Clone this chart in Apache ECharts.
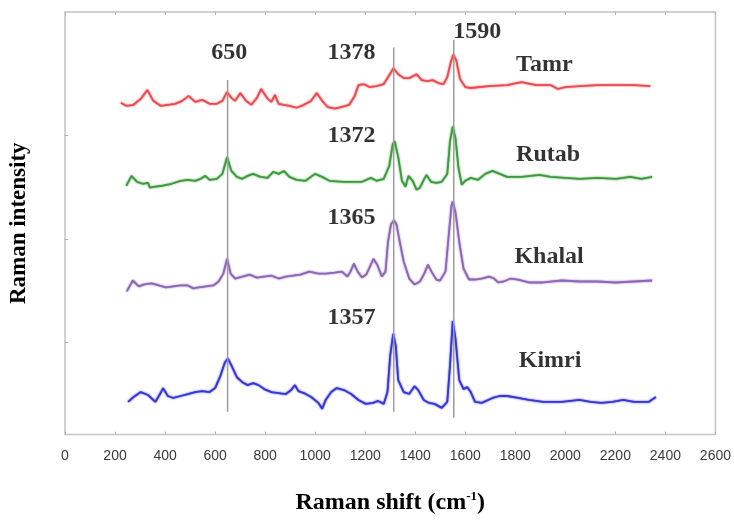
<!DOCTYPE html>
<html><head><meta charset="utf-8">
<script src="https://cdn.jsdelivr.net/npm/echarts@6/dist/echarts.min.js"></script>
<style>html,body{margin:0;padding:0;background:#fff}#c{width:734px;height:520px}</style>
</head><body><div id="c"></div>
<script>
// X axis ticks (Raman shift, cm-1)
var xTicks = [0,200,400,600,800,1000,1200,1400,1600,1800,2000,2200,2400,2600];
var yTicks = [101, 206, 311];

// Spectra (x: Raman shift axis units, y: stacked intensity, arbitrary units)
var tamrX = [223,245,274,303,329,353,382,411,440,469,494,520,549,578,607,629,648,665,680,701,723,745,767,784,810,825,839,854,875,897,926,955,984,1006,1028,1049,1078,1107,1136,1158,1173,1194,1216,1245,1274,1296,1313,1332,1354,1376,1405,1426,1448,1470,1492,1513,1528,1542,1552,1564,1579,1600,1622,1695,1767,1825,1883,1941,1970,1999,2057,2130,2202,2275,2340];
var tamrY = [344,341,342,348,357,346,341,342,343,346,351,345,347,343,343,346,355,349,346,354,346,342,349,358,348,345,352,343,342,341,339,342,346,354,346,340,338,340,342,351,362,363,360,361,363,372,379,373,369,369,373,367,366,367,364,363,370,385,393,387,368,360,359,361,362,365,362,362,358,360,361,362,362,362,361];

var rutabX = [245,266,288,310,332,339,361,390,426,462,491,520,542,561,578,607,629,648,665,687,709,730,752,781,810,832,854,875,897,926,962,999,1028,1057,1115,1187,1223,1245,1274,1296,1310,1318,1332,1347,1361,1373,1390,1405,1419,1434,1445,1463,1484,1506,1528,1539,1550,1561,1573,1586,1600,1622,1651,1680,1709,1738,1767,1825,1898,1941,1999,2057,2130,2202,2260,2304,2347];
var rutabY = [260,270,264,262,263,258,259,260,262,265,266,265,267,270,266,267,272,289,275,269,267,270,272,269,268,274,272,275,269,266,265,272,269,265,264,264,268,265,267,280,302,305,289,265,259,270,265,256,258,266,271,264,263,264,272,305,320,308,278,261,265,268,266,272,275,272,269,269,271,269,268,267,268,267,269,267,269];

var khalalX = [247,271,295,317,346,375,404,433,462,491,513,535,564,593,614,633,648,662,680,709,738,767,796,825,854,883,912,941,977,1013,1042,1078,1107,1129,1141,1155,1170,1187,1204,1219,1233,1248,1267,1281,1291,1303,1315,1325,1336,1354,1376,1397,1419,1436,1451,1465,1484,1499,1521,1535,1545,1550,1561,1576,1593,1615,1637,1666,1695,1716,1731,1753,1782,1811,1854,1912,1985,2057,2130,2202,2275,2347];
var khalalY = [153,164,158,160,161,159,157,158,159,159,156,157,158,159,163,171,186,171,166,168,170,167,168,169,166,168,169,170,173,171,171,172,173,168,173,181,173,167,170,178,186,180,168,173,203,221,225,221,206,183,166,160,163,171,180,173,165,164,173,213,240,244,233,203,176,165,165,166,168,166,162,163,166,165,162,162,164,163,163,162,163,164];

var kimriX = [252,274,303,332,361,382,392,411,433,462,491,520,549,578,600,622,639,651,665,687,709,730,752,774,796,825,854,883,904,919,933,955,984,1013,1028,1042,1064,1086,1115,1144,1173,1202,1231,1252,1274,1289,1300,1312,1322,1332,1354,1376,1397,1412,1434,1455,1477,1506,1528,1539,1550,1561,1576,1593,1608,1622,1639,1666,1709,1738,1767,1811,1854,1912,1985,2057,2101,2144,2188,2231,2275,2333,2362];
var kimriY = [41,46,51,48,41,50,55,47,45,47,49,51,52,51,55,68,81,85,78,66,61,58,60,58,54,51,50,49,53,58,52,50,46,40,34,43,51,55,53,49,43,39,40,42,39,51,88,110,98,63,51,49,57,53,43,40,39,35,41,78,123,105,63,54,56,51,41,40,45,47,47,45,43,41,41,43,41,40,41,43,41,41,46];

// Reference (peak marker) lines
var refX = [650, 1314, 1554];
var refTop = [367, 400, 408];
var refBottom = [31, 31, 25];

// Annotation texts
var annText = ['650','1378','1590','Tamr','1372','Rutab','1365','Khalal','1357','Kimri'];
var annX = [657, 1145, 1648, 1916, 1145, 1931, 1145, 1935, 1145, 1939];
var annY = [395, 395, 416, 383, 311, 291, 228, 188, 126, 83];

var names = ['Tamr','Rutab','Khalal','Kimri'];
var xs = [tamrX, rutabX, khalalX, kimriX];
var ys = [tamrY, rutabY, khalalY, kimriY];
var colors = ['#ea4b4e','#3e9a3e','#8d66b6','#3636d6'];

function pairs(a, b){ var o=[]; for(var i=0;i<a.length;i++) o.push([a[i], b[i]]); return o; }

var series = [];
for (var s=0; s<4; s++){
  series.push({
    name: names[s], type:'line', data: pairs(xs[s], ys[s]), symbol:'none', smooth:false,
    lineStyle:{color:colors[s], width:1.8, shadowColor:colors[s], shadowBlur:2},
    silent:true, z:2
  });
}
for (var r=0; r<refX.length; r++){
  series.push({
    type:'line', data:[[refX[r], refBottom[r]],[refX[r], refTop[r]]], symbol:'none',
    lineStyle:{color:'#9c9c9c', width:1.5}, silent:true, z:3
  });
}
var ann = [];
for (var k=0;k<annText.length;k++) ann.push({name: annText[k], value:[annX[k], annY[k]]});
series.push({
  type:'scatter', data: ann, symbolSize:0, silent:true, z:5,
  label:{show:true, position:'inside', formatter:'{b}', fontFamily:'Liberation Serif, Times New Roman, serif',
    fontWeight:'bold', fontSize:24, color:'#000', textBorderWidth:0}
});

var chart = echarts.init(document.getElementById('c'), null, {renderer:'canvas'});
chart.setOption({
  animation:false,
  backgroundColor:'#fff',
  grid:{left:57, right:16, top:12, bottom:80, show:true, borderColor:'#c4c4c4', borderWidth:1.5},
  xAxis:[{
    type:'value', min:xTicks[0], max:xTicks[xTicks.length-1], interval:xTicks[1]-xTicks[0],
    axisLine:{show:false}, splitLine:{show:false},
    axisTick:{show:true, inside:true, length:3, lineStyle:{color:'#b0b0b0'}},
    axisLabel:{color:'#3a3a3a', fontFamily:'Liberation Sans, Arial, sans-serif', fontSize:14, margin:15,
      formatter:function(v){ return String(v); }},
    name:'{a|Raman shift (cm}{s|-1}{a|)}', nameLocation:'middle', nameGap:56,
    nameTextStyle:{rich:{
      a:{fontFamily:'Liberation Serif, Times New Roman, serif', fontWeight:'bold', fontSize:24, color:'#000'},
      s:{fontFamily:'Liberation Serif, Times New Roman, serif', fontWeight:'bold', fontSize:13, color:'#000', padding:[0,0,12,0]}
    }}
  },{
    type:'value', position:'top', min:xTicks[0], max:xTicks[xTicks.length-1], interval:xTicks[1]-xTicks[0],
    axisLine:{show:false}, splitLine:{show:false}, axisLabel:{show:false},
    axisTick:{show:true, inside:true, length:3, lineStyle:{color:'#b0b0b0'}}
  }],
  yAxis:{
    type:'value', min:8, max:436,
    axisLine:{show:false}, splitLine:{show:false}, axisLabel:{show:false},
    axisTick:{show:true, inside:true, length:3, customValues:yTicks, lineStyle:{color:'#b0b0b0'}},
    name:'Raman intensity', nameLocation:'middle', nameGap:34, nameRotate:90,
    nameTextStyle:{fontFamily:'Liberation Serif, Times New Roman, serif', fontWeight:'bold', fontSize:23, color:'#000'}
  },
  series: series
});
</script></body></html>
